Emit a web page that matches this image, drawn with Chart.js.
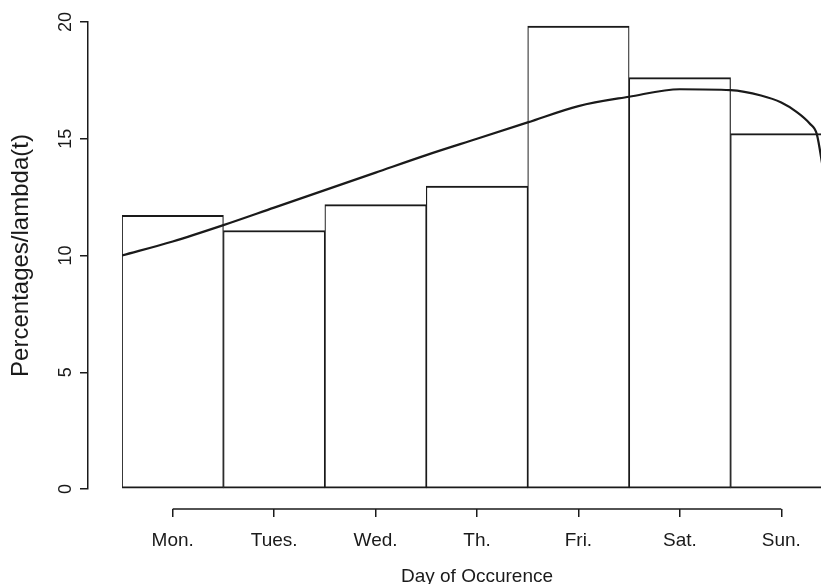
<!DOCTYPE html>
<html>
<head>
<meta charset="utf-8">
<script src="https://cdn.jsdelivr.net/npm/chart.js@4.4.1/dist/chart.umd.min.js"></script>
<style>
  html, body { margin: 0; padding: 0; background: #fff; overflow: hidden; }
  canvas { display: block; }
</style>
</head>
<body>
<canvas id="grafico" width="840" height="590"></canvas>
<script>
// ---------------- DADOS ----------------
const dias = ["Mon.", "Tues.", "Wed.", "Th.", "Fri.", "Sat.", "Sun."];
const percentagens = [11.72, 11.07, 12.18, 12.97, 19.83, 17.62, 15.22];

// lambda(t) (t em unidades de dia, -0.5 = início de Mon.)
const curvaT = [-0.5, 0, 0.5, 1, 1.5, 2, 2.5, 3, 3.5, 4, 4.5, 5, 5.5, 5.8, 6.0, 6.15, 6.28, 6.35, 6.4, 6.45];
const curvaY = [10.0, 10.6, 11.3, 12.05, 12.8, 13.55, 14.3, 15.0, 15.7, 16.4, 16.8, 17.12, 17.08, 16.85, 16.55, 16.15, 15.65, 15.2, 14.0, 12.5];

const yTicks = [0, 5, 10, 15, 20];

const tinta = "#1a1a1a";
const fonte = "'Liberation Sans', Arial, sans-serif";

// linha do eixo x ao estilo R: só do primeiro ao último tick
const eixoR = {
  id: "eixoR",
  afterDraw(chart) {
    const s = chart.scales.x;
    const ctx = chart.ctx;
    ctx.save();
    ctx.strokeStyle = tinta;
    ctx.lineWidth = 1.5;
    ctx.beginPath();
    ctx.moveTo(s.getPixelForTick(0), s.top);
    ctx.lineTo(s.getPixelForTick(s.ticks.length - 1), s.top);
    ctx.stroke();
    ctx.restore();
  }
};

new Chart(
  document.getElementById("grafico"),
  {
    type: "bar",

    data: {
      labels: dias,
      datasets: [
        {
          label: "Percentages",
          data: percentagens,
          backgroundColor: "#ffffff",
          borderColor: tinta,
          borderWidth: { left: 1.2, right: 1.2, top: 2, bottom: 2 },
          borderSkipped: false,
          barPercentage: 1,
          categoryPercentage: 1,
          grouped: false,
          order: 1
        },
        {
          type: "line",
          label: "lambda(t)",
          data: curvaT.map((t, i) => ({ x: t, y: curvaY[i] })),
          xAxisID: "xc",
          borderColor: tinta,
          borderWidth: 2.2,
          pointRadius: 0,
          cubicInterpolationMode: "monotone",
          fill: false,
          order: 0
        }
      ]
    },

    options: {
      responsive: false,
      animation: false,
      layout: { padding: { top: 22, right: 8, left: 0, bottom: 0 } },

      plugins: {
        legend: { display: false },
        tooltip: { enabled: false }
      },

      scales: {
        x: {
          type: "category",
          position: "bottom",
          weight: 1,
          offset: true,
          border: { display: false },
          grid: {
            offset: false,
            drawOnChartArea: false,
            drawTicks: true,
            tickLength: 8,
            color: tinta,
            lineWidth: 1.5
          },
          ticks: {
            color: tinta,
            padding: 12,
            maxRotation: 0,
            font: { family: fonte, size: 19 }
          },
          title: {
            display: true,
            text: "Day of Occurence",
            color: tinta,
            padding: { top: 0, bottom: 2 },
            font: { family: fonte, size: 19 }
          },
          afterFit(s) { s.height = 81; }
        },

        xpad: {
          type: "linear",
          axis: "x",
          position: "bottom",
          weight: 0,
          offset: false,
          border: { display: false },
          grid: { display: false },
          ticks: { display: false },
          afterFit(s) { s.height = 20; }
        },

        xc: {
          type: "linear",
          axis: "x",
          display: false,
          offset: false,
          min: -0.5,
          max: 6.5
        },

        y: {
          position: "left",
          weight: 1,
          min: 0,
          max: 20,
          border: { display: true, color: tinta, width: 1.5 },
          grid: {
            drawOnChartArea: false,
            drawTicks: true,
            tickLength: 8,
            color: tinta,
            lineWidth: 1.5
          },
          afterBuildTicks(s) { s.ticks = yTicks.map(v => ({ value: v })); },
          ticks: {
            color: tinta,
            minRotation: 90,
            maxRotation: 90,
            crossAlign: "center",
            padding: 4,
            font: { family: fonte, size: 18 }
          },
          title: {
            display: true,
            text: "Percentages/lambda(t)",
            color: tinta,
            padding: { top: 7, bottom: 0 },
            font: { family: fonte, size: 24 }
          },
          afterFit(s) { s.width = 88; }
        },

        ypad: {
          type: "linear",
          axis: "y",
          position: "left",
          weight: 0,
          border: { display: false },
          grid: { display: false },
          ticks: { display: false },
          afterFit(s) { s.width = 34; }
        }
      }
    },

    plugins: [eixoR]
  }
);
</script>
</body>
</html>
